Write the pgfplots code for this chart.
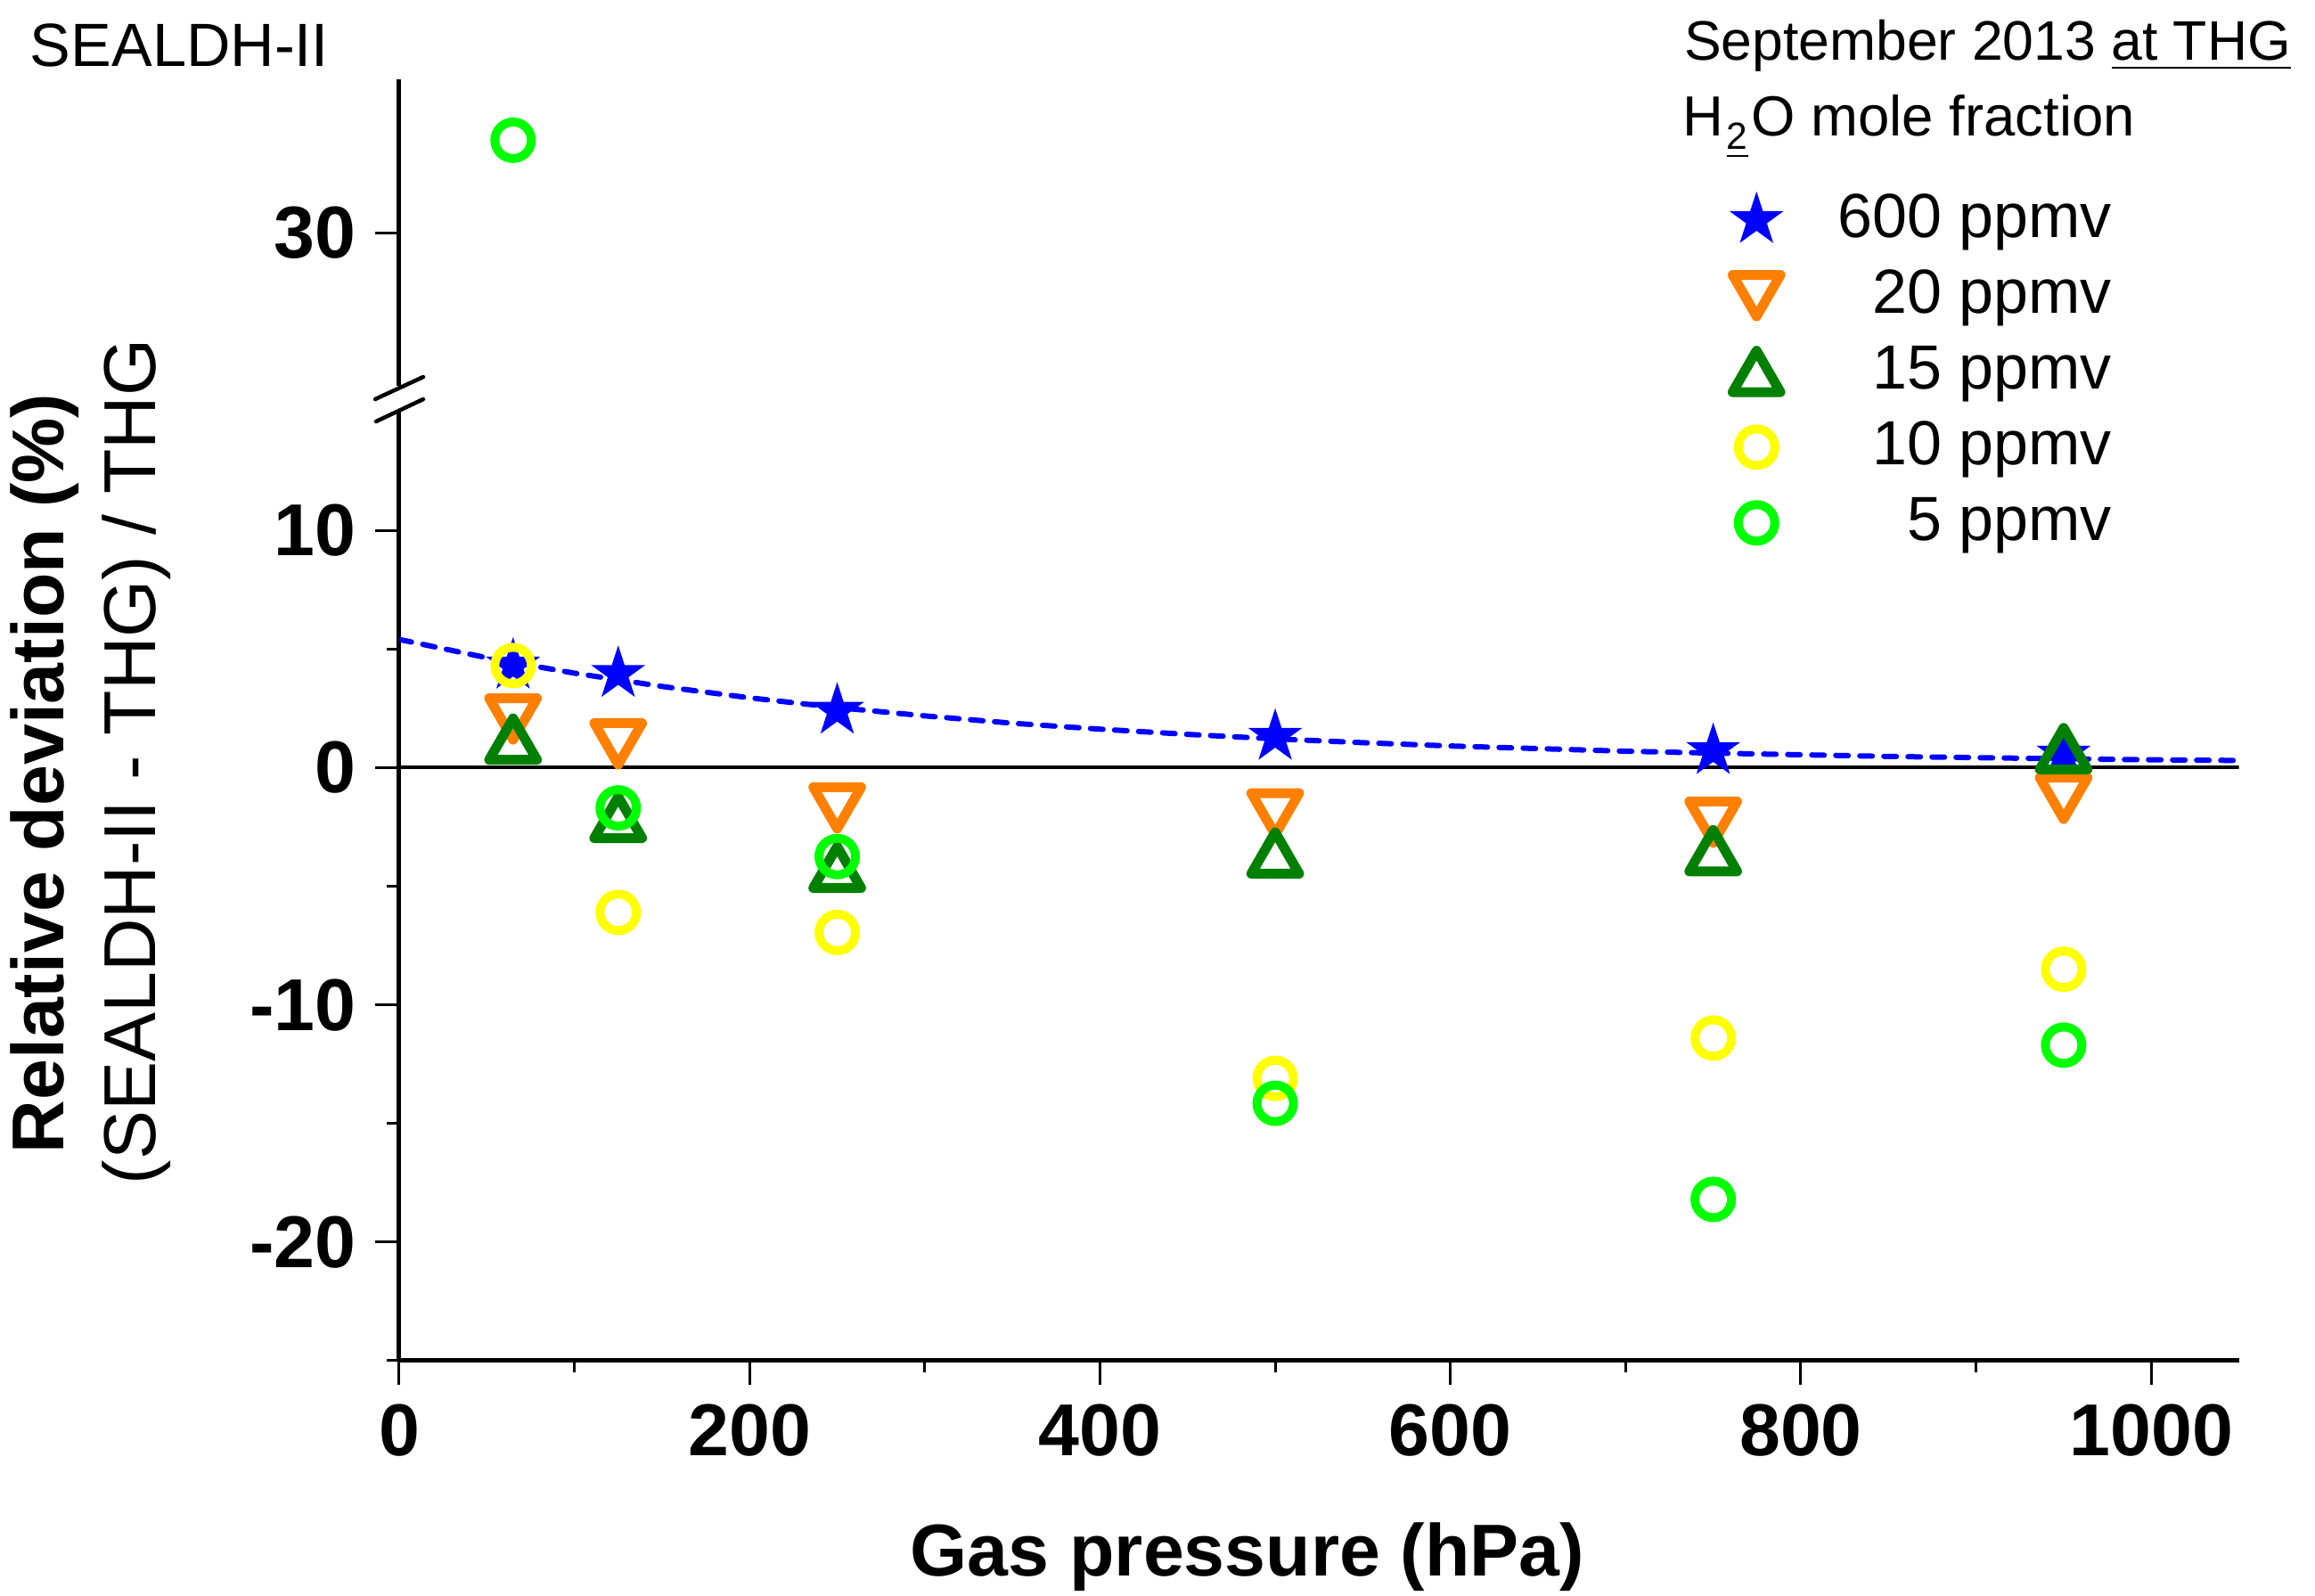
\documentclass[border=0pt]{standalone}
\usepackage{fontspec}
\setmainfont{Liberation Sans}
\usepackage{pgfplots}
\pgfplotsset{compat=1.18}

\definecolor{cblue}{RGB}{0,0,255}
\definecolor{corange}{RGB}{255,128,0}
\definecolor{cdkgreen}{RGB}{0,128,0}
\definecolor{cyellow}{RGB}{255,255,0}
\definecolor{cgreen}{RGB}{0,255,0}

\pgfdeclareplotmark{fstar}{%
  \pgfpathmoveto{\pgfpointpolar{90}{\pgfplotmarksize}}%
  \pgfpathlineto{\pgfpointpolar{126}{0.382\pgfplotmarksize}}%
  \pgfpathlineto{\pgfpointpolar{162}{\pgfplotmarksize}}%
  \pgfpathlineto{\pgfpointpolar{198}{0.382\pgfplotmarksize}}%
  \pgfpathlineto{\pgfpointpolar{234}{\pgfplotmarksize}}%
  \pgfpathlineto{\pgfpointpolar{270}{0.382\pgfplotmarksize}}%
  \pgfpathlineto{\pgfpointpolar{306}{\pgfplotmarksize}}%
  \pgfpathlineto{\pgfpointpolar{342}{0.382\pgfplotmarksize}}%
  \pgfpathlineto{\pgfpointpolar{18}{\pgfplotmarksize}}%
  \pgfpathlineto{\pgfpointpolar{54}{0.382\pgfplotmarksize}}%
  \pgfpathclose\pgfusepathqfill}
\pgfdeclareplotmark{triup}{%
  \pgfpathmoveto{\pgfqpoint{0pt}{0.75\pgfplotmarksize}}%
  \pgfpathlineto{\pgfqpoint{-0.866\pgfplotmarksize}{-0.75\pgfplotmarksize}}%
  \pgfpathlineto{\pgfqpoint{0.866\pgfplotmarksize}{-0.75\pgfplotmarksize}}%
  \pgfpathclose\pgfusepathqstroke}
\pgfdeclareplotmark{tridown}{%
  \pgfpathmoveto{\pgfqpoint{0pt}{-0.75\pgfplotmarksize}}%
  \pgfpathlineto{\pgfqpoint{-0.866\pgfplotmarksize}{0.75\pgfplotmarksize}}%
  \pgfpathlineto{\pgfqpoint{0.866\pgfplotmarksize}{0.75\pgfplotmarksize}}%
  \pgfpathclose\pgfusepathqstroke}

\newcommand\tickfont{\bfseries\fontsize{16.5}{19}\selectfont}

\pgfplotsset{
  myaxis/.style={
    scale only axis, width=412.9pt,
    xmin=0, xmax=1050,
    axis line style={line width=1pt,-},
    tick align=outside,
    major tick length=5.5pt, minor tick length=2.7pt,
    every tick/.style={line width=0.6pt, black},
    tick label style={font=\tickfont, inner sep=0pt},
    /pgf/number format/assume math mode=true,
    /pgf/number format/1000 sep={},
    yticklabel style={anchor=east},
    xticklabel style={anchor=north},
    yticklabel shift=4pt,
    xticklabel shift=4pt,
  },
  sstar/.style={only marks, mark=fstar, mark size=6.4pt, color=cblue},
  sdown/.style={only marks, mark=tridown, mark size=6.2pt, color=corange, mark options={line width=2.2pt, line join=round, solid}},
  sup/.style={only marks, mark=triup, mark size=6.2pt, color=cdkgreen, mark options={line width=2.2pt, line join=round, solid}},
  syel/.style={only marks, mark=o, mark size=4.1pt, color=cyellow, mark options={line width=2pt, solid}},
  sgrn/.style={only marks, mark=o, mark size=4.1pt, color=cgreen, mark options={line width=2pt, solid}},
}

\begin{document}
\begin{tikzpicture}
\begin{axis}[myaxis,
  name=lower, at={(0pt,0pt)}, anchor=south west,
  height=213pt, ymin=-25, ymax=15,
  axis x line*=bottom, axis y line*=left,
  xtick={0,200,...,1000}, minor xtick={100,300,...,900},
  ytick={-20,-10,0,10}, minor ytick={-25,-15,-5,5},
  legend cell align=right,
  legend style={draw=none, fill=none, at={(0.9359,1.238)}, anchor=north east,
    font=\fontsize{14}{16}\selectfont, row sep=0.7pt, inner sep=0pt,
    nodes={text height=9.5pt, text depth=3pt, inner sep=1.9pt}},
  legend image code/.code={\path[draw=none,fill=none] (-11pt,-4pt) rectangle (16.3pt,4pt);
    \draw[mark repeat=2,mark phase=2] plot coordinates {(-1pt,0.7pt)(0pt,0.7pt)(1pt,0.7pt)};},
]
\addplot[black, line width=0.8pt, forget plot] coordinates {(0,0) (1050,0)};
\addplot[cblue, line width=1.2pt, dash pattern=on 2.8pt off 2.6pt, line cap=round, forget plot] coordinates {
(0,5.40) (50,4.63) (100,3.98) (150,3.42) (200,2.94) (250,2.53) (300,2.18)
(350,1.87) (400,1.62) (450,1.40) (500,1.21) (550,1.05) (600,0.91) (650,0.80)
(700,0.69) (750,0.61) (800,0.54) (850,0.47) (900,0.42) (950,0.37) (1000,0.33) (1050,0.30)};
\addplot[sstar] coordinates {(65,4.3) (125,3.95) (250,2.4) (500,1.3) (750,0.7) (950,0.55)};
\addlegendentry{600 ppmv}
\addplot[sdown] coordinates {(65,2.05) (125,1.0) (250,-1.7) (500,-1.95) (750,-2.3) (950,-1.3)};
\addlegendentry{20 ppmv}
\addplot[sup] coordinates {(65,1.2) (125,-2.1) (250,-4.2) (500,-3.6) (750,-3.5) (950,0.8)};
\addlegendentry{15 ppmv}
\addplot[syel] coordinates {(65,4.3) (125,-6.1) (250,-6.95) (500,-13.1) (750,-11.4) (950,-8.5)};
\addlegendentry{10 ppmv}
\addplot[sgrn] coordinates {(125,-1.7) (250,-3.75) (500,-14.15) (750,-18.2) (950,-11.7)};
\addlegendentry{5 ppmv}
\end{axis}

\begin{axis}[myaxis,
  name=upper, at={(0pt,218.8pt)}, anchor=south west,
  height=68.7pt, ymin=23.55, ymax=36.45,
  axis x line=none, axis y line*=left,
  ytick={30}, minor ytick={},
]
\addplot[sgrn] coordinates {(65,33.9)};
\end{axis}

% axis break marks
\draw[line width=0.9pt, line cap=round] (-5.4pt,215.8pt) -- (5.4pt,220.8pt);
\draw[line width=0.9pt, line cap=round] (-5.2pt,210.8pt) -- (5.4pt,215.8pt);

% labels
\node[rotate=90, font=\bfseries\fontsize{16.5}{19}\selectfont] at (-79.6pt,131.8pt) {Relative deviation (\%)};
\node[rotate=90, font=\fontsize{16.5}{19}\selectfont] at (-59pt,134.4pt) {(SEALDH-II - THG) / THG};
\node[font=\bfseries\fontsize{16.5}{19}\selectfont] at (190.4pt,-44pt) {Gas pressure (hPa)};
\node[anchor=base west, inner sep=0pt, font=\fontsize{13.7}{16}\selectfont] at (-83pt,290.4pt) {SEALDH-II};
\node[anchor=base east, inner sep=0pt, font=\fontsize{12.5}{15}\selectfont] at (424.8pt,291.8pt) {September 2013 \underline{at THG}};
\node[anchor=base west, inner sep=0pt, font=\fontsize{12.7}{15}\selectfont] at (287.8pt,274.8pt) {H\hspace{0.8pt}\raisebox{-3pt}{\fontsize{8.5}{9}\selectfont\underline{2}}\hspace{0.8pt}O mole fraction};

\pgfresetboundingbox
\path[use as bounding box] (-89.6pt,-52.8pt) rectangle (430pt,305.4pt);
\end{tikzpicture}
\end{document}
